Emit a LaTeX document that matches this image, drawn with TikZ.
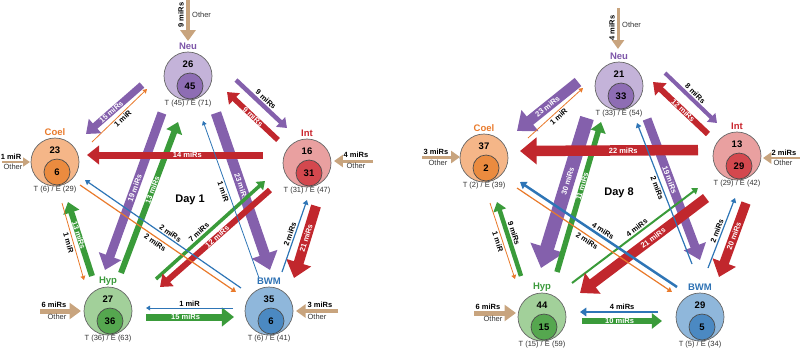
\documentclass[tikz,border=0pt]{standalone}
\usepackage{fontspec}
\setmainfont{Liberation Sans}
\usetikzlibrary{arrows.meta}
\definecolor{neuO}{HTML}{C4B3D9}\definecolor{neuI}{HTML}{8E6DB4}\definecolor{neuL}{HTML}{7D56A8}
\definecolor{coelO}{HTML}{F5B688}\definecolor{coelI}{HTML}{EB8B3F}\definecolor{coelL}{HTML}{E97A2B}
\definecolor{intO}{HTML}{E9A0A0}\definecolor{intI}{HTML}{D4484E}\definecolor{intL}{HTML}{C9252D}
\definecolor{hypO}{HTML}{A2D09A}\definecolor{hypI}{HTML}{55A74F}\definecolor{hypL}{HTML}{3C9A3C}
\definecolor{bwmO}{HTML}{8FB7DB}\definecolor{bwmI}{HTML}{4B89C2}\definecolor{bwmL}{HTML}{2E72B4}
\definecolor{purA}{HTML}{8460AC}\definecolor{redA}{HTML}{C1272D}\definecolor{grnA}{HTML}{3A9B3A}
\definecolor{bluA}{HTML}{2E75B6}\definecolor{oraA}{HTML}{E97A2B}\definecolor{tanA}{HTML}{C8A47E}
\definecolor{capC}{HTML}{333333}
\newcommand\mylabfont{\fontsize{7.5}{8}\selectfont\bfseries}
\tikzset{
  outerc/.style={circle, draw=black!60, line width=0.7pt, minimum size=48pt, inner sep=0pt},
  innerc/.style={circle, draw=black!70, line width=0.7pt, minimum size=26pt, inner sep=0pt, font=\fontsize{9.5}{10}\selectfont\bfseries},
  numt/.style={font=\fontsize{9.5}{10}\selectfont\bfseries, inner sep=0pt},
  namet/.style={font=\fontsize{9.5}{10}\selectfont\bfseries, inner sep=0pt},
  capt/.style={font=\fontsize{7.5}{8}\selectfont, text=capC, inner sep=0pt},
  arr/.style={line width=#1pt, -{Triangle[length=3pt 1.3,width=3pt 2.2]}},
  tarr/.style={draw=tanA, line width=#1pt, -{Triangle[length=5pt 1.3,width=6pt 2]}},
  wl/.style={text=white, font=\mylabfont, sloped, inner sep=0pt},
  bl/.style={text=black, font=\mylabfont, sloped, inner sep=1.5pt},
  ml/.style={text=black, font=\mylabfont, inner sep=0pt},
  ot/.style={text=capC, font=\fontsize{7.5}{8}\selectfont, inner sep=0pt},
  dayt/.style={font=\fontsize{11}{12}\selectfont\bfseries, inner sep=0pt}
}
\newcommand\bub[8]{%
  \node[outerc, fill=#4O] (#1) at (#2,#3) {};
  \node[innerc, fill=#4I] (#1i) at (#2+2,#3+10) {#7};
  \node[numt] (#1t) at (#2,#3-12) {#6};
  \node[namet, text=#4L] (#1n) at (#2,#3-30) {#5};
  \node[capt] (#1c) at (#2,#3+28) {#8};
}
\begin{document}
\begin{tikzpicture}[x=1pt,y=-1pt]
\useasboundingbox (0,0) rectangle (800,349);
% ---------------- Day 1 ----------------
\bub{neuA}{188}{76}{neu}{Neu}{26}{45}{T (45) / E (71)}
\bub{coelA}{55}{162}{coel}{Coel}{23}{6}{T (6) / E (29)}
\bub{intA}{307}{163}{int}{Int}{16}{31}{T (31) / E (47)}
\bub{hypA}{108}{311}{hyp}{Hyp}{27}{36}{T (36) / E (63)}
\bub{bwmA}{269}{311}{bwm}{BWM}{35}{6}{T (6) / E (41)}
\node[dayt] (day1) at (190,200) {Day 1};

\coordinate (d1pc1) at (142,85); \coordinate (d1pc2) at (86,134);
\draw[arr=7,purA] (d1pc1) -- node[wl,pos=.55]{15 miRs} (d1pc2);
\coordinate (d1ph1) at (162,113); \coordinate (d1ph2) at (105,270);
\draw[arr=9,purA] (d1ph1) -- node[wl,pos=.48]{19 miRs} (d1ph2);
\coordinate (d1pb1) at (216,113); \coordinate (d1pb2) at (270,270);
\draw[arr=10.5,purA] (d1pb1) -- node[wl,pos=.47]{23 miRs} (d1pb2);
\coordinate (d1pi1) at (236,80); \coordinate (d1pi2) at (287,128);
\draw[arr=4.5,purA] (d1pi1) -- node[bl,above,pos=.5]{9 miRs} (d1pi2);
\coordinate (d1gh1) at (121,273); \coordinate (d1gh2) at (178,122);
\draw[arr=6,grnA] (d1gh1) -- node[wl,pos=.55]{13 miRs} (d1gh2);
\coordinate (d1gi1) at (156,279); \coordinate (d1gi2) at (265,181);
\draw[arr=3.5,grnA] (d1gi1) -- node[bl,above,pos=.43]{7 miRs} (d1gi2);
\coordinate (d1gc1) at (92,276); \coordinate (d1gc2) at (68,202);
\draw[arr=6,grnA] (d1gc1) -- node[wl,pos=.55]{13 miRs} (d1gc2);
\coordinate (d1gb1) at (146,317); \coordinate (d1gb2) at (234,317);
\draw[arr=7,grnA] (d1gb1) -- node[wl,pos=.45]{15 miRs} (d1gb2);
\coordinate (d1rc1) at (263,155); \coordinate (d1rc2) at (87,155);
\draw[arr=7,redA] (d1rc1) -- node[wl,pos=.43]{14 miRs} (d1rc2);
\coordinate (d1ri1) at (278,140); \coordinate (d1ri2) at (227,92);
\draw[arr=5.5,redA] (d1ri1) -- node[wl,pos=.49]{9 miRs} (d1ri2);
\coordinate (d1rb1) at (316,206); \coordinate (d1rb2) at (294,278);
\draw[arr=10,redA] (d1rb1) -- node[wl,pos=.45]{21 miRs} (d1rb2);
\coordinate (d1rh1) at (270,190); \coordinate (d1rh2) at (160,287);
\draw[arr=6,redA] (d1rh1) -- node[wl,pos=.48]{12 miRs} (d1rh2);
\coordinate (d1oc1) at (92,142); \coordinate (d1oc2) at (147,89);
\draw[arr=0.8,oraA] (d1oc1) -- node[bl,below,pos=.5]{1 miR} (d1oc2);
\coordinate (d1ob1) at (80,185); \coordinate (d1ob2) at (236,292);
\draw[arr=1.2,oraA] (d1ob1) -- node[bl,below,pos=.5]{2 miRs} (d1ob2);
\coordinate (d1oh1) at (62,203); \coordinate (d1oh2) at (84,280);
\draw[arr=0.8,oraA] (d1oh1) -- node[bl,below,pos=.5]{1 miR} (d1oh2);
\coordinate (d1bn1) at (259,278); \coordinate (d1bn2) at (203,121);
\draw[arr=0.8,bluA] (d1bn1) -- node[bl,below,pos=.56]{1 miR} (d1bn2);
\coordinate (d1bi1) at (282,272); \coordinate (d1bi2) at (307,200);
\draw[arr=1.2,bluA] (d1bi1) -- node[bl,above,pos=.5]{2 miRs} (d1bi2);
\coordinate (d1bc1) at (241,288); \coordinate (d1bc2) at (85,180);
\draw[arr=1.2,bluA] (d1bc1) -- node[bl,above,pos=.47]{2 miRs} (d1bc2);
\coordinate (d1bh1) at (233,308); \coordinate (d1bh2) at (146,308);
\draw[arr=0.8,bluA] (d1bh1) -- node[bl,above,pos=.5]{1 miR} (d1bh2);
% other inputs day 1
\coordinate (d1tn1) at (188,0); \coordinate (d1tn2) at (188,41);
\draw[tarr=4.5] (d1tn1) -- (d1tn2);
\node[ml,rotate=90] (d1tnl) at (181,15) {9 miRs};
\node[ot,anchor=west] (d1tno) at (192,15) {Other};
\coordinate (d1tc1) at (2,162); \coordinate (d1tc2) at (30,162);
\draw[tarr=1.5] (d1tc1) -- (d1tc2);
\node[ml] (d1tcl) at (11,157) {1 miR};
\node[ot] (d1tco) at (13,167) {Other};
\coordinate (d1ti1) at (373,161); \coordinate (d1ti2) at (334,161);
\draw[tarr=3] (d1ti1) -- (d1ti2);
\node[ml] (d1til) at (356,155) {4 miRs};
\node[ot] (d1tio) at (356,166) {Other};
\coordinate (d1th1) at (40,311); \coordinate (d1th2) at (81,311);
\draw[tarr=5] (d1th1) -- (d1th2);
\node[ml] (d1thl) at (54,305) {6 miRs};
\node[ot] (d1tho) at (57,317) {Other};
\coordinate (d1tb1) at (338,311); \coordinate (d1tb2) at (296,311);
\draw[tarr=3.5] (d1tb1) -- (d1tb2);
\node[ml] (d1tbl) at (320,305) {3 miRs};
\node[ot] (d1tbo) at (317,317) {Other};

% ---------------- Day 8 ----------------
\bub{neuB}{619}{86}{neu}{Neu}{21}{33}{T (33) / E (54)}
\bub{coelB}{484}{158}{coel}{Coel}{37}{2}{T (2) / E (39)}
\bub{intB}{737}{156}{int}{Int}{13}{29}{T (29) / E (42)}
\bub{hypB}{542}{317}{hyp}{Hyp}{44}{15}{T (15) / E (59)}
\bub{bwmB}{700}{317}{bwm}{BWM}{29}{5}{T (5) / E (34)}
\node[dayt] (day8) at (619,193) {Day 8};

\coordinate (d8pc1) at (578,82); \coordinate (d8pc2) at (517,131);
\draw[arr=10.5,purA] (d8pc1) -- node[wl,pos=.5]{23 miRs} (d8pc2);
\coordinate (d8ph1) at (587,118); \coordinate (d8ph2) at (541,268);
\draw[arr=14,purA] (d8ph1) -- node[wl,pos=.42]{30 miRs} (d8ph2);
\coordinate (d8pb1) at (647,119); \coordinate (d8pb2) at (700,260);
\draw[arr=9,purA] (d8pb1) -- node[wl,pos=.43]{19 miRs} (d8pb2);
\coordinate (d8pi1) at (665,73); \coordinate (d8pi2) at (717,123);
\draw[arr=4,purA] (d8pi1) -- node[bl,above,pos=.5]{8 miRs} (d8pi2);
\coordinate (d8gh1) at (557,272); \coordinate (d8gh2) at (601,122);
\draw[arr=5.5,grnA] (d8gh1) -- node[wl,pos=.57]{11 miRs} (d8gh2);
\coordinate (d8gi1) at (572,283); \coordinate (d8gi2) at (698,188);
\draw[arr=2,grnA] (d8gi1) -- node[bl,above,pos=.54]{4 miRs} (d8gi2);
\coordinate (d8gc1) at (521,276); \coordinate (d8gc2) at (497,202);
\draw[arr=4.5,grnA] (d8gc1) -- node[bl,above,pos=.55]{9 miRs} (d8gc2);
\coordinate (d8gb1) at (582,321); \coordinate (d8gb2) at (662,321);
\draw[arr=5.5,grnA] (d8gb1) -- node[wl,pos=.47]{10 miRs} (d8gb2);
\coordinate (d8rc1) at (698,150); \coordinate (d8rc2) at (520,151);
\draw[arr=10.5,redA] (d8rc1) -- node[wl,pos=.42]{22 miRs} (d8rc2);
\coordinate (d8ri1) at (708,134); \coordinate (d8ri2) at (653,82);
\draw[arr=6,redA] (d8ri1) -- node[wl,pos=.45]{12 miRs} (d8ri2);
\coordinate (d8rb1) at (746,203); \coordinate (d8rb2) at (719,277);
\draw[arr=9.5,redA] (d8rb1) -- node[wl,pos=.45]{20 miRs} (d8rb2);
\coordinate (d8rh1) at (706,198); \coordinate (d8rh2) at (580,293);
\draw[arr=10,redA] (d8rh1) -- node[wl,pos=.42]{21 miRs} (d8rh2);
\coordinate (d8oc1) at (528,138); \coordinate (d8oc2) at (583,88);
\draw[arr=0.8,oraA] (d8oc1) -- node[bl,below,pos=.5]{1 miR} (d8oc2);
\coordinate (d8ob1) at (517,188); \coordinate (d8ob2) at (672,292);
\draw[arr=1.2,oraA] (d8ob1) -- node[bl,below,pos=.47]{2 miRs} (d8ob2);
\coordinate (d8oh1) at (490,203); \coordinate (d8oh2) at (515,279);
\draw[arr=0.8,oraA] (d8oh1) -- node[bl,below,pos=.49]{1 miR} (d8oh2);
\coordinate (d8bn1) at (692,264); \coordinate (d8bn2) at (637,123);
\draw[arr=1.2,bluA] (d8bn1) -- node[bl,below,pos=.55]{2 miRs} (d8bn2);
\coordinate (d8bi1) at (708,268); \coordinate (d8bi2) at (735,198);
\draw[arr=1.2,bluA] (d8bi1) -- node[bl,above,pos=.5]{2 miRs} (d8bi2);
\coordinate (d8bc1) at (677,287); \coordinate (d8bc2) at (520,182);
\draw[arr=2.5,bluA] (d8bc1) -- node[bl,above,pos=.49]{4 miRs} (d8bc2);
\coordinate (d8bh1) at (658,312); \coordinate (d8bh2) at (580,312);
\draw[arr=2.5,bluA] (d8bh1) -- node[bl,above,pos=.46]{4 miRs} (d8bh2);
% other inputs day 8
\coordinate (d8tn1) at (618,8); \coordinate (d8tn2) at (618,49);
\draw[tarr=3] (d8tn1) -- (d8tn2);
\node[ml,rotate=90] (d8tnl) at (612,28) {4 miRs};
\node[ot,anchor=west] (d8tno) at (622,25) {Other};
\coordinate (d8tc1) at (422,157); \coordinate (d8tc2) at (460,157);
\draw[tarr=3] (d8tc1) -- (d8tc2);
\node[ml] (d8tcl) at (436,152) {3 miRs};
\node[ot] (d8tco) at (438,163) {Other};
\coordinate (d8ti1) at (800,158); \coordinate (d8ti2) at (763,158);
\draw[tarr=2.5] (d8ti1) -- (d8ti2);
\node[ml] (d8til) at (784,153) {2 miRs};
\node[ot] (d8tio) at (783,163) {Other};
\coordinate (d8th1) at (474,313); \coordinate (d8th2) at (516,313);
\draw[tarr=5] (d8th1) -- (d8th2);
\node[ml] (d8thl) at (488,307) {6 miRs};
\node[ot] (d8tho) at (493,319) {Other};
\end{tikzpicture}
\end{document}
